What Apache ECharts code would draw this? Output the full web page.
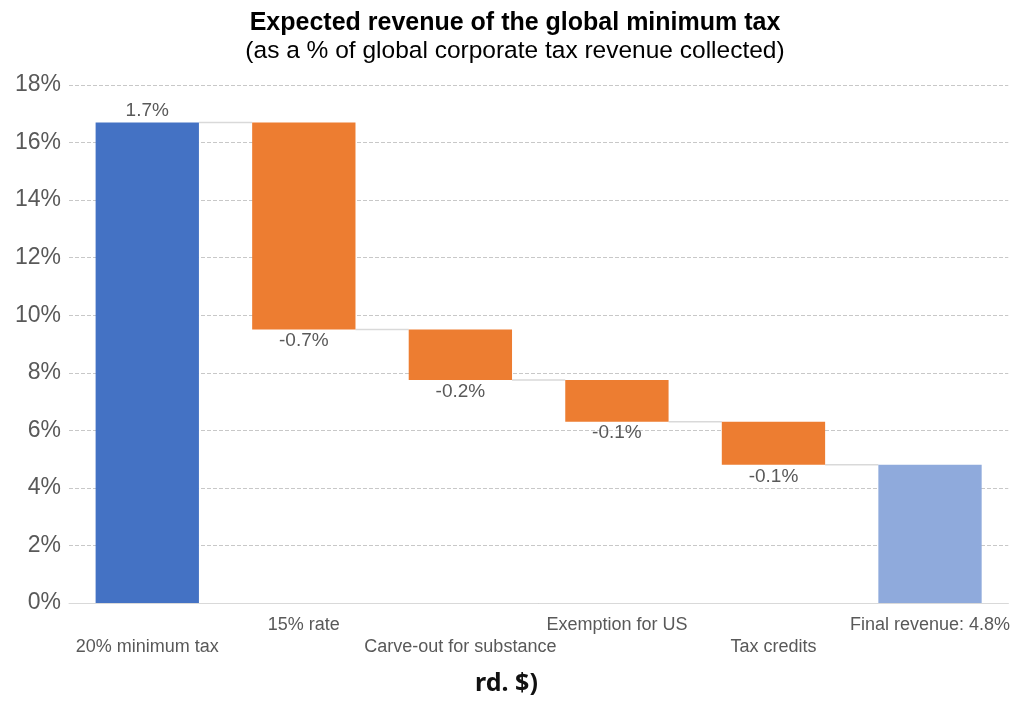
<!DOCTYPE html>
<html lang="en">
<head>
    <meta charset="UTF-8">
    <title>Global minimum tax</title>
    <script src="https://cdn.jsdelivr.net/npm/echarts@6/dist/echarts.min.js"></script>
    <style>
        html, body { margin: 0; padding: 0; background: #fff; }
        #main { width: 1013px; height: 701px; }
    </style>
</head>
<body>
    <div id="main"></div>
    <script>
        // data
        var categories = ['20% minimum tax', '15% rate', 'Carve-out for substance', 'Exemption for US', 'Tax credits', 'Final revenue: 4.8%'];
        var barTop = [16.7, 16.7, 9.5, 7.75, 6.3, 4.8];
        var barBottom = [0, 9.5, 7.75, 6.3, 4.8, 0];
        var barLabels = ['1.7%', '-0.7%', '-0.2%', '-0.1%', '-0.1%', ''];
        var barColors = ['#4472C4', '#ED7D31', '#ED7D31', '#ED7D31', '#ED7D31', '#8FAADC'];

        var font = 'Liberation Sans, Arial, sans-serif';
        var barW = 0.66;

        var baseData = barBottom.slice();
        var valueData = barTop.map(function (t, i) {
            return {
                value: t - barBottom[i],
                itemStyle: { color: barColors[i] },
                label: {
                    show: barLabels[i] !== '',
                    position: i === 0 ? 'top' : 'bottom',
                    formatter: barLabels[i],
                    distance: 2
                }
            };
        });
        // connector level after each bar
        var connectors = [];
        for (var i = 0; i < categories.length - 1; i++) {
            connectors.push([i, i === 0 ? barTop[0] : barBottom[i]]);
        }

        var chart = echarts.init(document.getElementById('main'));
        chart.setOption({
            animation: false,
            title: {
                text: 'Expected revenue of the global minimum tax',
                subtext: '(as a % of global corporate tax revenue collected)',
                left: 510,
                textAlign: 'center',
                top: 6,
                itemGap: 3,
                textStyle: { fontFamily: font, fontSize: 25, fontWeight: 'bold', color: '#000' },
                subtextStyle: { fontFamily: font, fontSize: 24.5, color: '#000' }
            },
            grid: { left: 69, right: 4, top: 85, bottom: 98 },
            xAxis: {
                type: 'category',
                data: categories,
                axisTick: { show: false },
                axisLine: { lineStyle: { color: '#d9d9d9' } },
                axisLabel: {
                    interval: 0,
                    margin: 11,
                    fontFamily: font,
                    fontSize: 18,
                    lineHeight: 22,
                    color: '#595959',
                    formatter: function (v, idx) { return idx % 2 === 0 ? '\n' + v : v; }
                }
            },
            yAxis: {
                type: 'value',
                min: 0,
                max: 18,
                interval: 2,
                axisLine: { show: false },
                axisTick: { show: false },
                axisLabel: {
                    formatter: '{value}%',
                    fontFamily: font,
                    fontSize: 23,
                    color: '#595959',
                    margin: 8
                },
                splitLine: { lineStyle: { color: '#c8c8c8', type: 'dashed' } }
            },
            series: [
                {
                    type: 'custom',
                    data: connectors,
                    z: 1,
                    renderItem: function (params, api) {
                        var idx = api.value(0);
                        var y = api.value(1);
                        var a = api.coord([idx, y]);
                        var b = api.coord([idx + 1, y]);
                        var w = api.size([1, 0])[0] * barW;
                        return {
                            type: 'line',
                            shape: { x1: a[0] + w / 2, y1: a[1], x2: b[0] - w / 2, y2: b[1] },
                            style: { stroke: '#d9d9d9', lineWidth: 1.5 }
                        };
                    }
                },
                {
                    type: 'bar',
                    stack: 'w',
                    barWidth: '66%',
                    itemStyle: { color: 'transparent' },
                    emphasis: { disabled: true },
                    data: baseData
                },
                {
                    type: 'bar',
                    stack: 'w',
                    barWidth: '66%',
                    label: { fontFamily: font, fontSize: 19, color: '#595959' },
                    data: valueData
                }
            ],
            graphic: [{
                type: 'text',
                left: 'center',
                top: 671,
                style: {
                    text: 'rd. $)',
                    font: 'bold 25px "Noto Sans", sans-serif',
                    fill: '#111'
                }
            }]
        });
    </script>
</body>
</html>
